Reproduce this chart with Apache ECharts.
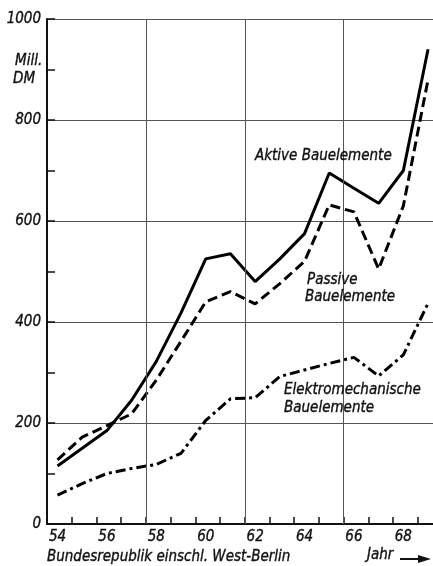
<!DOCTYPE html>
<html>
<head>
<meta charset="utf-8">
<script src="https://cdn.jsdelivr.net/npm/echarts@6/dist/echarts.min.js"></script>
<style>
  html, body { margin: 0; padding: 0; background: #fff; }
  #chart { width: 433px; height: 566px; }
</style>
</head>
<body>
<div id="chart"></div>
<script>
// Production value of electronic components, Mill. DM, 1954-1969
const years = [54, 55, 56, 57, 58, 59, 60, 61, 62, 63, 64, 65, 66, 67, 68, 69];
const aktive = [115, 150, 185, 245, 322, 418, 525, 535, 480, 525, 575, 695, 665, 635, 700, 940];
const passive = [127, 172, 195, 218, 285, 362, 440, 460, 436, 476, 520, 632, 618, 505, 630, 880];
const elektro = [57, 80, 100, 110, 118, 140, 205, 248, 250, 292, 305, 318, 330, 293, 335, 437];

const xLabelYears = [54, 56, 58, 60, 62, 64, 66, 68];
const xTickYears = [54.58, 55.58, 56.58, 57.58, 58.58, 59.58, 60.58, 61.58, 62.58, 63.58, 64.58, 65.58, 66.58, 67.58, 68.58];
const xGridYears = [57.58, 61.58, 65.58];

const FONT = "'Liberation Sans Narrow', 'DejaVu Sans Condensed', sans-serif";
const textStyle = {
  fontFamily: FONT, fontStyle: 'italic', fontSize: 15, color: '#111',
  textBorderColor: '#111', textBorderWidth: 0.35
};

function pairs(vals) { return years.map((y, i) => [y, vals[i]]); }

// free-standing text, anchored at its left edge and vertical middle
function label(text, x, y) {
  return {
    type: 'text', x: x, y: y, z: 10,
    style: {
      text: text, font: "italic 15px " + FONT, fill: '#111',
      stroke: '#111', lineWidth: 0.35, align: 'left', verticalAlign: 'middle'
    }
  };
}

const chart = echarts.init(document.getElementById('chart'), null, { renderer: 'canvas' });

chart.setOption({
  backgroundColor: '#fff',
  animation: false,
  grid: { left: 47, right: 0, top: 19, bottom: 42, containLabel: false },
  xAxis: {
    type: 'value', min: 53.575, max: 69.2,
    axisLine: { show: true, lineStyle: { color: '#111', width: 2 } },
    axisTick: { show: true, inside: true, length: 7, customValues: xTickYears, lineStyle: { color: '#111', width: 1.5 } },
    axisLabel: { show: true, customValues: xLabelYears, margin: 6, ...textStyle },
    splitLine: { show: false }
  },
  yAxis: {
    type: 'value', min: 0, max: 1000, interval: 200,
    axisLine: { show: true, lineStyle: { color: '#111', width: 2 } },
    axisTick: { show: true, inside: true, length: 8, lineStyle: { color: '#111', width: 1.5 } },
    minorTick: { show: true, splitNumber: 2, length: 8, lineStyle: { color: '#111', width: 1.5 } },
    axisLabel: { show: true, margin: 6, formatter: v => String(v), ...textStyle },
    splitLine: { show: true, lineStyle: { color: '#555', width: 1 } }
  },
  series: [
    {
      type: 'line', data: [], silent: true, z: 1,
      markLine: {
        silent: true, symbol: ['none', 'none'], label: { show: false },
        lineStyle: { type: 'solid', color: '#555', width: 1 },
        data: xGridYears.map(v => ({ xAxis: v }))
      }
    },
    {
      name: 'Aktive Bauelemente', type: 'line', data: pairs(aktive), showSymbol: false, z: 3,
      lineStyle: { color: '#000', width: 3, type: 'solid' }
    },
    {
      name: 'Passive Bauelemente', type: 'line', data: pairs(passive), showSymbol: false, z: 3,
      lineStyle: { color: '#000', width: 3, type: [10, 5] }
    },
    {
      name: 'Elektromechanische Bauelemente', type: 'line', data: pairs(elektro), showSymbol: false, z: 3,
      lineStyle: { color: '#000', width: 3, type: [10, 4, 3, 4] }
    }
  ],
  graphic: [
    label('Mill.', 15, 61),
    label('DM', 13, 79),
    label('Aktive Bauelemente', 255, 156),
    label('Passive', 307, 280),
    label('Bauelemente', 305, 297),
    label('Elektromechanische', 284, 390),
    label('Bauelemente', 284, 408),
    label('Bundesrepublik einschl. West-Berlin', 47, 557),
    label('Jahr', 367, 555),
    {
      type: 'line', z: 10, shape: { x1: 400, y1: 559, x2: 422, y2: 559 },
      style: { stroke: '#111', lineWidth: 2 }
    },
    {
      type: 'polygon', z: 10, shape: { points: [[418, 555], [431, 559], [418, 563]] },
      style: { fill: '#111' }
    }
  ]
});
</script>
</body>
</html>
